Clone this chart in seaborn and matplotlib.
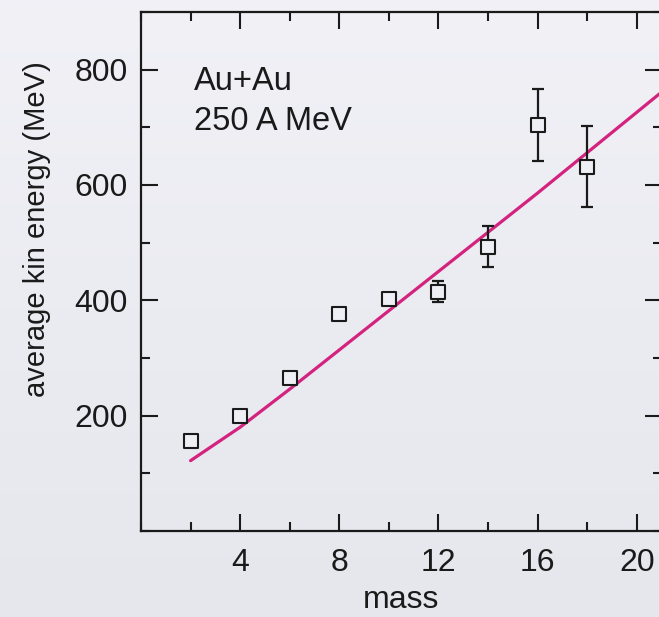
import numpy as np
import pandas as pd
import matplotlib
matplotlib.use("Agg")
import matplotlib.pyplot as plt
from matplotlib.ticker import MultipleLocator
import seaborn as sns

# data
mass = [2, 4, 6, 8, 10, 12, 14, 16, 18]
energy = [156, 200, 265, 377, 402, 415, 493, 704, 632]
err = [0, 0, 0, 0, 0, 18, 36, 63, 71]
model_mass = [2, 4, 6, 8, 10, 12, 14, 16, 18, 20, 21]
model_energy = [122, 180, 246, 314, 382, 450, 518, 586, 656, 726, 761]
x_ticks = [4, 8, 12, 16, 20]
y_ticks = [200, 400, 600, 800]
annotation = ["Au+Au", "250 A MeV"]

sns.set_style("ticks")
plt.rcParams["font.family"] = ["Liberation Sans", "DejaVu Sans"]

W, H = 659, 617
fig = plt.figure(figsize=(W / 100, H / 100), dpi=100)

# background gradient
bg = fig.add_axes([0, 0, 1, 1], zorder=-10)
grad = np.linspace(0, 1, 256).reshape(-1, 1)
top = np.array([0.945, 0.945, 0.965])
bot = np.array([0.898, 0.906, 0.929])
img = top[None, None, :] * (1 - grad[:, :, None]) + bot[None, None, :] * grad[:, :, None]
bg.imshow(img, aspect="auto", extent=[0, 1, 0, 1])
bg.axis("off")

left, right = 141 / W, 661.5 / W
bottom, topp = 1 - 531 / H, 1 - 12 / H
ax = fig.add_axes([left, bottom, right - left, topp - bottom])
ax.patch.set_alpha(0)

ink = "#1a1a1a"
df_model = pd.DataFrame({"mass": model_mass, "energy": model_energy})
sns.lineplot(data=df_model, x="mass", y="energy", ax=ax, color="#d4237f",
             linewidth=2.3, zorder=2)

df = pd.DataFrame({"mass": mass, "energy": energy, "err": err})
e = df[df["err"] > 0]
ax.errorbar(e["mass"], e["energy"], yerr=e["err"], fmt="none", ecolor=ink,
            elinewidth=1.6, capsize=4.5, capthick=1.6, zorder=3)
sns.scatterplot(data=df, x="mass", y="energy", ax=ax, marker="s", s=90,
                facecolor="#eeeff4", edgecolor=ink, linewidth=1.5, zorder=4)

ax.set_xlim(0, 21)
ax.set_ylim(0, 900)
ax.xaxis.set_minor_locator(MultipleLocator(2))
ax.yaxis.set_minor_locator(MultipleLocator(100))
ax.set_xticks(x_ticks)
ax.set_yticks(y_ticks)
ax.tick_params(which="both", direction="in", top=True, right=True, width=1.5,
               colors=ink, labelsize=23)
ax.tick_params(axis="x", pad=12)
ax.tick_params(axis="y", pad=9.5)
ax.tick_params(which="major", length=12)
ax.tick_params(which="minor", length=6.5)
for s in ax.spines.values():
    s.set_visible(True)
    s.set_linewidth(1.6)
    s.set_color(ink)

ax.set_xlabel("mass", fontsize=23, color=ink)
ax.xaxis.set_label_coords(0.4995, -0.104)
ax.set_ylabel("average kin energy (MeV)", fontsize=21, color=ink)
ax.yaxis.set_label_coords(-0.172, 0.582)

ax.text(2.14, 765, annotation[0], fontsize=23.5, color=ink)
ax.text(2.14, 696, annotation[1], fontsize=23.5, color=ink)

fig.savefig("out.png", dpi=100)
